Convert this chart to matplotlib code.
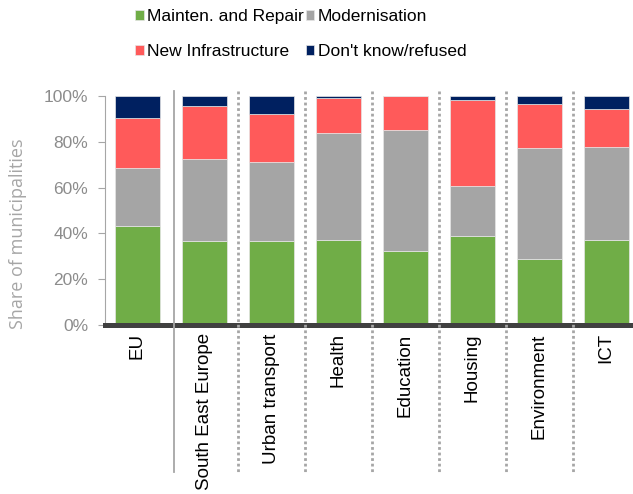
import matplotlib
matplotlib.use("Agg")
import matplotlib.pyplot as plt
import matplotlib.transforms as mtransforms
import numpy as np

plt.rcParams['font.family'] = ['Liberation Sans', 'DejaVu Sans']

categories = ["EU", "South East Europe", "Urban transport", "Health",
              "Education", "Housing", "Environment", "ICT"]
# segment shares (%)
repair = [43.4, 36.8, 36.8, 36.9, 32.5, 39.0, 28.7, 37.3]
modernisation = [25.2, 35.8, 34.4, 47.1, 52.7, 21.7, 48.5, 40.4]
new_infra = [21.8, 23.0, 21.1, 15.3, 14.8, 37.4, 19.3, 16.6]
dont_know = [9.6, 4.4, 7.7, 0.7, 0.0, 1.9, 3.5, 5.7]

series = [("Mainten. and Repair", repair, "#70ad47"),
          ("Modernisation", modernisation, "#a5a5a5"),
          ("New Infrastructure", new_infra, "#ff5a5a"),
          ("Don't know/refused", dont_know, "#002060")]

fig = plt.figure(figsize=(6.33, 4.94), dpi=100)
ax = fig.add_axes([105 / 633, 1 - 325 / 494, 528 / 633, 229 / 494])

x = np.arange(len(categories))
bottom = np.zeros(len(categories))
bars = []
for name, vals, col in series:
    vals = np.array(vals)
    b = ax.bar(x, vals, width=0.67, bottom=bottom, color=col, label=name,
               edgecolor="#e6e6e6", linewidth=0.5)
    bars.append(b)
    bottom += vals

ax.set_xlim(-0.485, 7.4)
ax.set_ylim(0, 100)
ax.set_yticks(np.arange(0, 101, 20))
ax.set_yticklabels([f"{v}%" for v in range(0, 101, 20)])
ax.set_xticks(x)
ax.set_xticklabels(categories, rotation=90, va="top", fontsize=13.5)
ax.tick_params(axis="x", length=0, pad=6)
ax.tick_params(axis="y", length=5, color="#a6a6a6", labelcolor="#8c8c8c",
               labelsize=12.5, pad=7)

for s in ["top", "right", "bottom"]:
    ax.spines[s].set_visible(False)
ax.spines["left"].set_color("#a6a6a6")

ax.set_ylabel("Share of municipalities", color="#a6a6a6", fontsize=13,
              family=["Open Sans", "DejaVu Sans"])
ax.yaxis.set_label_coords(-0.148, 0.40)

# thick base line
ax.axhline(0, color="#404040", lw=3.6, zorder=5, clip_on=False)

# separators running down past the axis
trans = mtransforms.blended_transform_factory(ax.transData, fig.transFigure)
y_top, y_bot = 1 - 91 / 494, 1 - 472 / 494
ax.plot([0.55, 0.55], [y_top, y_bot], transform=trans, color="#a6a6a6",
        lw=1.3, clip_on=False, zorder=6)
for xs in np.arange(1.5, 7, 1.0):
    ax.plot([xs, xs], [y_top, y_bot], transform=trans, color="#a6a6a6",
            lw=2, ls=(0, (1, 1)), clip_on=False, zorder=6)

# legend filled row by row
order = [0, 2, 1, 3]
fig.legend([bars[i] for i in order], [series[i][0] for i in order],
           loc="upper left", bbox_to_anchor=(135 / 633, 1 - 9 / 494), ncol=2,
           frameon=False, fontsize=12.5, handlelength=0.5, handleheight=0.5,
           handletextpad=0.2, columnspacing=0.1, labelspacing=1.15,
           borderpad=0, borderaxespad=0)

fig.savefig("out.png", dpi=100)
